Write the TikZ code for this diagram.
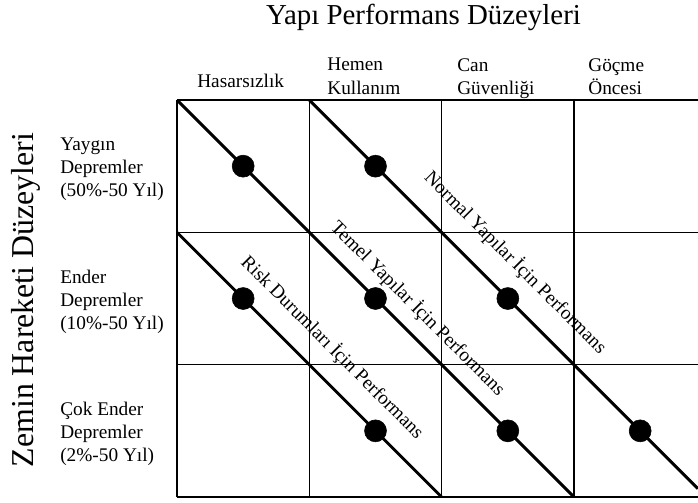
\documentclass[tikz,border=0pt]{standalone}
\usepackage{fontspec}
\setmainfont{Liberation Serif}
\begin{document}
\begin{tikzpicture}[x=3.3cm,y=3.3cm,
	etiket/.style={font=\fontsize{13.7pt}{16.4pt}\selectfont,inner sep=0pt,align=left},
	baslik/.style={font=\fontsize{20.5pt}{24pt}\selectfont,inner sep=0pt},
	cizgi/.style={line width=2.1pt},
	izgara/.style={line width=1pt}]
	\useasboundingbox (-1.3375,-0.0378) rectangle (3.937,3.7557);
	\draw [izgara] (0,0)--(3.937,0) (0,1)--(3.937,1) (0,2)--(3.937,2) (0,3)--(3.937,3);
	\draw [izgara] (0,0)--(0,3) (1,0)--(1,3) (2,0)--(2,3) (3,0)--(3,3);
	\draw [cizgi] (0,2)--(2,0) (0,3)--(3,0) (1,3)--(3.937,0.063);
	\filldraw [fill=black] (0.5,2.5)circle(.083) (1.5,2.5)circle(.083)
	(0.5,1.5)circle(.083) (1.5,1.5)circle(.083) (2.5,1.5)circle(.083)
	(1.5,0.5)circle(.083) (2.5,0.5)circle(.083) (3.5,0.5)circle(.083);
	\node [baslik,anchor=base] (ust) at (1.863,3.574) {Yapı Performans Düzeyleri};
	\node [baslik,font=\fontsize{22.6pt}{26pt}\selectfont,rotate=90,anchor=base] (sol) at (-1.088,1.489) {Zemin Hareketi Düzeyleri};
	\node [etiket,anchor=base west] (hasar) at (0.151,3.091) {Hasarsızlık};
	\node [etiket,anchor=north west] (hemen) at (1.134,3.317) {Hemen\\Kullanım};
	\node [etiket,anchor=north west] (can) at (2.116,3.317) {Can\\Güvenliği};
	\node [etiket,anchor=north west] (gocme) at (3.106,3.317) {Göçme\\Öncesi};
	\node [etiket,anchor=west] (yaygin) at (-0.884,2.479) {Yaygın\\Depremler\\(50\%-50 Yıl)};
	\node [etiket,anchor=west] (ender) at (-0.884,1.477) {Ender\\Depremler\\(10\%-50 Yıl)};
	\node [etiket,anchor=west] (cokender) at (-0.884,0.476) {Çok Ender\\Depremler\\(2\%-50 Yıl)};
	\node [etiket,rotate=-45] (risk) at (1.175,1.130) {Risk Durumları İçin Performans};
	\node [etiket,rotate=-45] (temel) at (1.822,1.425) {Temel Yapılar İçin Performans};
	\node [etiket,rotate=-45] (normal) at (2.559,1.772) {Normal Yapılar İçin Performans};
\end{tikzpicture}
\end{document}
